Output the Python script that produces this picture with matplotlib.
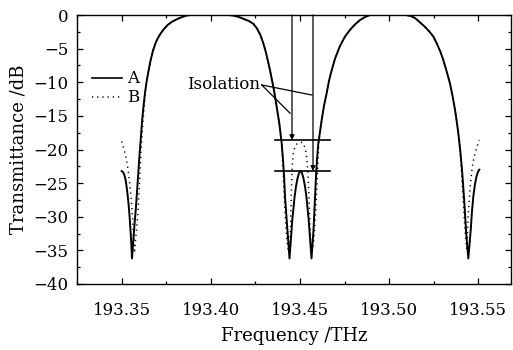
import matplotlib
matplotlib.use("Agg")
import matplotlib.pyplot as plt
from matplotlib.ticker import MultipleLocator

# ---- data (frequency in THz, transmittance in dB) ----
freq_a = [193.34983, 193.35067, 193.35135, 193.35202, 193.35258, 193.35309,
          193.35365, 193.35416, 193.35466, 193.35517, 193.35562,
          193.35635, 193.35708, 193.35787, 193.35854, 193.35916, 193.35972,
          193.36022, 193.36079, 193.36135, 193.36208, 193.36292, 193.36382,
          193.36478, 193.36601, 193.36742, 193.36910, 193.37107, 193.37320,
          193.37556, 193.37809, 193.38090, 193.38371, 193.38596, 193.38820,
          193.41011, 193.41292, 193.41573, 193.41854, 193.42135, 193.42376,
          193.42584, 193.42781, 193.42938, 193.43090, 193.43214, 193.43315,
          193.43427, 193.43523, 193.43596, 193.43685, 193.43764, 193.43837,
          193.43905, 193.43972, 193.44045, 193.44112, 193.44157, 193.44225,
          193.44287, 193.44360, 193.44410,
          193.44461, 193.44511, 193.44567, 193.44624, 193.44697, 193.44775,
          193.44859, 193.44944, 193.45028, 193.45112, 193.45197, 193.45281,
          193.45360, 193.45433, 193.45489, 193.45545, 193.45596, 193.45646,
          193.45697, 193.45758, 193.45803, 193.45843, 193.45893, 193.45955,
          193.46028, 193.46124, 193.46219, 193.46348, 193.46500, 193.46629,
          193.46781, 193.46966, 193.47247, 193.47528, 193.47809, 193.48090,
          193.48371, 193.48652, 193.48933,
          193.50955, 193.51236, 193.51489, 193.51742, 193.51994, 193.52247,
          193.52489, 193.52697, 193.52893, 193.53050, 193.53230, 193.53427,
          193.53567, 193.53708, 193.53820, 193.53921, 193.54006, 193.54084,
          193.54157, 193.54242, 193.54326, 193.54393, 193.54455,
          193.54517, 193.54590, 193.54652, 193.54736, 193.54820, 193.54916,
          193.55000, 193.55073]
db_a = [-23.2, -23.4, -23.8, -24.5, -25.5, -26.6,
        -28.0, -29.6, -31.5, -33.7, -36.2,
        -33.5, -31.0, -28.5, -26.0, -23.5, -21.3,
        -19.6, -17.6, -15.6, -13.6, -11.6, -9.9,
        -8.5, -6.8, -5.3, -4.0, -3.0, -2.2,
        -1.5, -1.0, -0.62, -0.3, -0.1, 0.0,
        0.0, -0.1, -0.3, -0.6, -0.9, -1.3,
        -2.0, -3.0, -4.2, -5.6, -7.0, -8.2,
        -9.7, -11.0, -12.1, -13.6, -14.9, -16.1,
        -17.6, -19.1, -21.5, -24.3, -27.0, -29.5,
        -32.0, -34.3, -36.2,
        -34.3, -32.5, -30.5, -29.0, -27.0, -25.5,
        -24.3, -23.5, -23.2, -23.5, -24.3, -25.5,
        -27.0, -29.0, -30.5, -32.5, -34.3, -36.2,
        -34.3, -32.0, -29.5, -27.0, -24.3, -21.5,
        -19.1, -17.3, -15.6, -13.5, -11.6, -9.8,
        -8.2, -6.5, -4.6, -3.2, -2.2, -1.4,
        -0.75, -0.3, 0.0,
        0.0, -0.15, -0.5, -1.1, -1.7, -2.4,
        -3.2, -4.3, -5.5, -6.7, -8.3, -10.2,
        -12.0, -14.1, -16.1, -18.2, -20.3, -22.5,
        -25.0, -28.3, -32.0, -34.3, -36.2,
        -34.3, -32.0, -29.5, -27.0, -25.3, -24.0,
        -23.3, -23.0]

freq_b = [193.34983, 193.35056, 193.35129, 193.35197, 193.35264, 193.35326,
          193.35382, 193.35438, 193.35494, 193.35545, 193.35590, 193.35635,
          193.35674, 193.35702, 193.35758, 193.35815, 193.35860, 193.35916,
          193.35966, 193.36011, 193.36056, 193.36107, 193.36163, 193.36219,
          193.36292, 193.36382, 193.36478, 193.36601, 193.36742, 193.36910,
          193.37107, 193.37320, 193.37556, 193.37809, 193.38090, 193.38371,
          193.38596, 193.38820, 193.41011, 193.41292, 193.41573, 193.41854,
          193.42135, 193.42376, 193.42584, 193.42781, 193.42938, 193.43090,
          193.43214, 193.43315, 193.43427, 193.43523, 193.43596, 193.43685,
          193.43764, 193.43837, 193.43905, 193.43972,
          193.44011, 193.44045, 193.44079, 193.44112, 193.44152, 193.44197,
          193.44247, 193.44315, 193.44382, 193.44427, 193.44461, 193.44489,
          193.44511, 193.44534, 193.44567, 193.44624, 193.44708, 193.44815,
          193.44916, 193.45028, 193.45129, 193.45225, 193.45320, 193.45376,
          193.45427, 193.45466, 193.45500, 193.45528, 193.45562, 193.45601,
          193.45657, 193.45719, 193.45787, 193.45837, 193.45882, 193.45921,
          193.45955, 193.45989, 193.46022, 193.46056,
          193.46124, 193.46219, 193.46348, 193.46500, 193.46629,
          193.46781, 193.46966, 193.47247, 193.47528, 193.47809, 193.48090,
          193.48371, 193.48652, 193.48933,
          193.50955, 193.51236, 193.51489, 193.51742, 193.51994, 193.52247,
          193.52489, 193.52697, 193.52893, 193.53050, 193.53230, 193.53427,
          193.53567, 193.53708, 193.53820, 193.53921, 193.54006,
          193.54056, 193.54118, 193.54185, 193.54258, 193.54315, 193.54365,
          193.54410, 193.54455, 193.54506, 193.54562, 193.54624, 193.54697,
          193.54775, 193.54860, 193.54944, 193.55017, 193.55073]
db_b = [-18.8, -19.4, -20.1, -20.9, -21.8, -22.8,
        -23.9, -25.2, -26.7, -28.3, -30.0, -32.0,
        -34.0, -35.4, -33.5, -32.0, -30.5, -28.5,
        -26.0, -23.5, -21.0, -18.6, -16.4, -14.5,
        -11.9, -9.9, -8.5, -6.8, -5.3, -4.0,
        -3.0, -2.2, -1.5, -1.0, -0.62, -0.3,
        -0.1, 0.0, 0.0, -0.1, -0.3, -0.6,
        -0.9, -1.3, -2.0, -3.0, -4.2, -5.6,
        -7.0, -8.2, -9.7, -11.0, -12.1, -13.6,
        -14.9, -16.1, -17.6, -19.1,
        -21.0, -23.0, -25.0, -27.0, -29.0, -31.0,
        -33.0, -34.6, -35.4, -34.0, -32.0, -29.5,
        -27.0, -24.5, -22.3, -20.6, -19.7, -19.2,
        -19.0, -18.9, -19.0, -19.3, -20.2, -21.3,
        -22.7, -24.5, -27.0, -29.5, -32.0, -34.0,
        -35.4, -34.6, -33.0, -31.0, -29.0, -27.0,
        -25.0, -23.0, -21.0, -19.1,
        -17.3, -15.6, -13.5, -11.6, -9.8,
        -8.2, -6.5, -4.6, -3.2, -2.2, -1.4,
        -0.75, -0.3, 0.0,
        0.0, -0.15, -0.5, -1.1, -1.7, -2.4,
        -3.2, -4.3, -5.5, -6.7, -8.3, -10.2,
        -12.0, -14.1, -16.1, -18.2, -20.3,
        -22.5, -25.0, -28.3, -31.5, -33.5, -34.7,
        -32.0, -29.5, -27.5, -25.5, -23.8, -22.3,
        -21.2, -20.3, -19.6, -19.0, -18.6]

isolation_levels = [-18.6, -23.2]
xticks = [193.35, 193.40, 193.45, 193.50, 193.55]
yticks = [0, -5, -10, -15, -20, -25, -30, -35, -40]

plt.rcParams['font.family'] = ['DejaVu Serif']
plt.rcParams['mathtext.fontset'] = 'dejavuserif'

fig = plt.figure(figsize=(5.13, 3.5), dpi=100)
ax = fig.add_axes([0.150, 0.1886, 0.846, 0.7685])

dot_style = (0, (0.8, 2.6))
ax.plot(freq_a, db_a, color='black', lw=1.4, solid_joinstyle='round')
ax.plot(freq_b, db_b, color='black', lw=1.1, linestyle=dot_style)

# isolation marks
for lvl in isolation_levels:
    ax.plot([193.4360, 193.4669], [lvl, lvl], color='black', lw=1.2)
ax.annotate('', xy=(193.4455, isolation_levels[0]), xytext=(193.4455, 0),
            arrowprops=dict(arrowstyle='-|>', color='black', lw=0.9,
                            mutation_scale=7, shrinkA=0, shrinkB=0))
ax.annotate('', xy=(193.4573, isolation_levels[1]), xytext=(193.4573, 0),
            arrowprops=dict(arrowstyle='-|>', color='black', lw=0.9,
                            mutation_scale=7, shrinkA=0, shrinkB=0))
ax.text(193.4275, -10.3, 'Isolation', fontsize=12, ha='right', va='center')
ax.plot([193.4285, 193.4567], [-10.4, -11.9], color='black', lw=0.9)
ax.plot([193.4285, 193.4444], [-10.4, -14.6], color='black', lw=0.9)

# legend
ax.plot([193.3331, 193.3500], [-9.4, -9.4], color='black', lw=1.2)
ax.plot([193.3331, 193.3500], [-12.2, -12.2], color='black', lw=1.1,
        linestyle=dot_style)
ax.text(193.3528, -9.4, 'A', fontsize=12, ha='left', va='center')
ax.text(193.3528, -12.2, 'B', fontsize=12, ha='left', va='center')

ax.set_xlim(193.3247, 193.5685)
ax.set_ylim(-40, 0)
ax.set_xticks(xticks)
ax.set_xticklabels([f'{t:.2f}' for t in xticks])
ax.set_yticks(yticks)
ax.set_yticklabels([str(t).replace('-', '\u2212') for t in yticks])
ax.xaxis.set_minor_locator(MultipleLocator(0.025))
ax.yaxis.set_minor_locator(MultipleLocator(2.5))
ax.tick_params(which='both', direction='in', top=True, right=True,
               labelsize=12, width=0.9)
ax.tick_params(which='major', length=4)
ax.tick_params(which='minor', length=2)
ax.tick_params(axis='x', pad=13)
ax.tick_params(axis='y', pad=6)
for s in ax.spines.values():
    s.set_linewidth(1.0)

ax.set_xlabel('Frequency /THz', fontsize=13, labelpad=6)
ax.set_ylabel('Transmittance /dB', fontsize=13, labelpad=4)

fig.savefig('out.png', dpi=100)
